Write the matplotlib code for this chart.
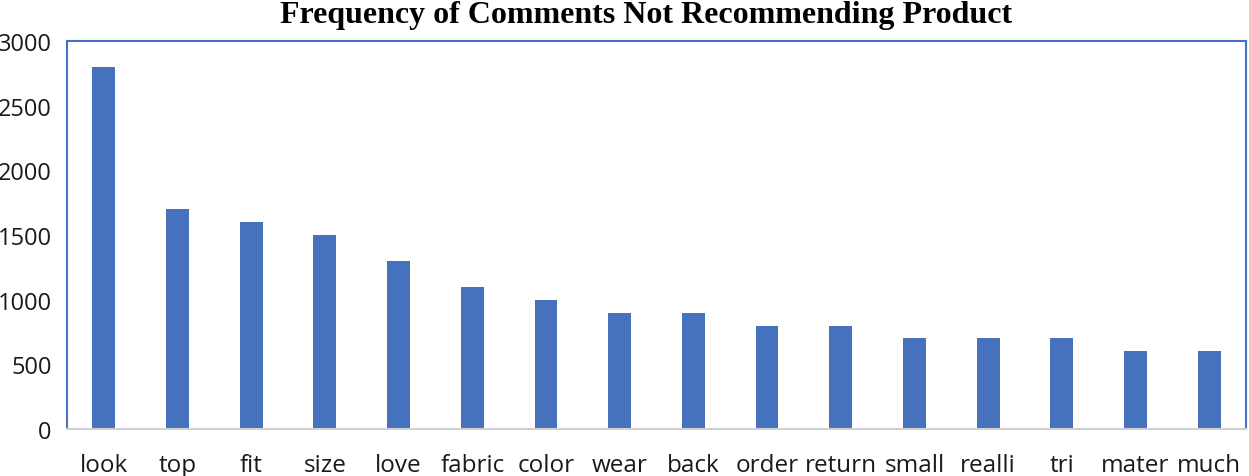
import matplotlib
matplotlib.use("Agg")
import matplotlib.pyplot as plt

categories = ["look", "top", "fit", "size", "love", "fabric", "color", "wear",
              "back", "order", "return", "small", "realli", "tri", "mater", "much"]
counts = [2800, 1700, 1600, 1500, 1300, 1100, 1000, 900,
          900, 800, 800, 700, 700, 700, 600, 600]
yticks = [0, 500, 1000, 1500, 2000, 2500, 3000]

W, H = 1249, 477
fig = plt.figure(figsize=(W / 100, H / 100), dpi=100)
L, R, T, B = 67, 1246, 42, 430
ax = fig.add_axes([L / W, 1 - B / H, (R - L) / W, (B - T) / H])

x = range(len(categories))
ax.bar(x, counts, width=0.31, color="#4672BD", zorder=2)
ax.set_xlim(-0.5, len(categories) - 0.5)
ax.set_ylim(0, 3000)
ax.set_yticks(yticks)
ax.set_xticks(list(x))
ax.set_xticklabels(categories)

for s in ["left", "top", "right"]:
    ax.spines[s].set_color("#4472C4")
    ax.spines[s].set_linewidth(1.5)
ax.spines["bottom"].set_color("#D0D0D0")
ax.spines["bottom"].set_linewidth(1.5)

ax.tick_params(axis="both", length=0, labelsize=17.5, labelcolor="#1a1a1a")
ax.tick_params(axis="y", labelsize=17, pad=11)
ax.tick_params(axis="x", pad=17)
for lab in ax.get_xticklabels() + ax.get_yticklabels():
    lab.set_fontfamily("Open Sans")

fig.text(646 / W, 1 - 15 / H, "Frequency of Comments Not Recommending Product",
         ha="center", va="center", fontsize=23, fontweight="bold",
         family="Liberation Serif")

fig.savefig("out.png", dpi=100)
